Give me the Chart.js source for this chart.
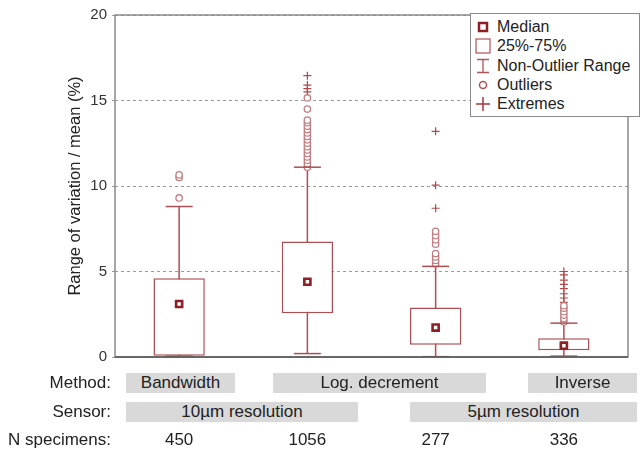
<!DOCTYPE html>
<html>
<head>
<meta charset="utf-8">
<script src="https://cdn.jsdelivr.net/npm/chart.js@4.4.0/dist/chart.umd.min.js"></script>
<style>
  body { margin: 0; background: #fff; font-family: "Liberation Sans", Arial, sans-serif; color: #222; }
  #wrap { position: relative; width: 643px; height: 450px; overflow: hidden; }
  #chart { position: absolute; left: 0; top: 0; }
  .legend { position: absolute; left: 470px; top: 13px; width: 170px; height: 104px; box-sizing: border-box;
            border: 1.5px solid #8a8a8a; background: #fff; }
  .li { position: absolute; left: 26px; font-size: 16px; line-height: 18px; white-space: nowrap; }
  .li svg { position: absolute; left: -22px; top: 1px; }
  .rowlabel { position: absolute; right: 532px; font-size: 17px; line-height: 20px; text-align: right; white-space: nowrap; }
  .bar { position: absolute; height: 20px; background: #d9d9d9; font-size: 17px; line-height: 20px; text-align: center; }
  .num { position: absolute; font-size: 17px; line-height: 20px; width: 60px; margin-left: -30px; text-align: center; }
</style>
</head>
<body>
<div id="wrap">
  <canvas id="chart" width="643" height="450"></canvas>

  <div class="legend">
    <div class="li" style="top:4px"><svg width="16" height="16"><rect x="4" y="4" width="8" height="8" fill="#fff" stroke="#8e1f24" stroke-width="2.5"/></svg>Median</div>
    <div class="li" style="top:23px"><svg width="16" height="16"><rect x="1" y="1" width="14" height="14" fill="#fff" stroke="#b05356" stroke-width="1.2"/></svg>25%-75%</div>
    <div class="li" style="top:43px"><svg width="16" height="16"><path d="M2 1.5H14M8 1.5V14.5M2 14.5H14" fill="none" stroke="#b05356" stroke-width="1.3"/></svg>Non-Outlier Range</div>
    <div class="li" style="top:62px"><svg width="16" height="16"><circle cx="8" cy="8" r="3.5" fill="#fff" stroke="#b05356" stroke-width="1.5"/></svg>Outliers</div>
    <div class="li" style="top:81px"><svg width="16" height="16"><path d="M1 8H15M8 1V15" fill="none" stroke="#a8383c" stroke-width="1.5"/></svg>Extremes</div>
  </div>

  <div class="rowlabel" style="top:373px">Method:</div>
  <div class="rowlabel" style="top:402px">Sensor:</div>
  <div class="rowlabel" style="top:430px">N specimens:</div>
  <div id="table"></div>
</div>

<script>
// four groups of measurements
var categories = ['Bandwidth', 'Log. decrement 10', 'Log. decrement 5', 'Inverse'];
var nSpecimens = [450, 1056, 277, 336];
var methods = ['Bandwidth', 'Log. decrement', 'Inverse'];
var sensors = ['10\u00b5m resolution', '5\u00b5m resolution'];

// box statistics (% range of variation / mean)
var q1 = [0.08, 2.56, 0.72, 0.4];
var q3 = [4.6, 6.75, 2.9, 1.1];
var medians = [3.1, 4.4, 1.72, 0.66];
var whiskLow = [0.05, 0.2, 0.02, 0.05];
var whiskHigh = [8.8, 11.1, 5.3, 1.98];

var outliers = [
  [9.3, 10.5, 10.65],
  [11.1, 11.3, 11.5, 11.7, 11.9, 12.1, 12.3, 12.5, 12.7, 12.9, 13.1, 13.3, 13.5, 13.7, 13.85, 14.5, 15.15],
  [5.45, 5.65, 5.85, 6.05, 6.6, 6.85, 7.1, 7.35],
  [2.05, 2.25, 2.45, 2.65, 2.85, 3.0]
];
var extremes = [
  [],
  [15.5, 15.7, 15.9, 16.45],
  [8.7, 10.05, 13.2],
  [3.2, 3.45, 3.7, 4.0, 4.25, 4.5, 4.8, 5.0]
];

var boxColor = '#ad4e52';
var medColor = '#8e1f24';
var outColor = '#c27d80';
var extColor = '#b1484c';

function pts(arrs) {
  var out = [];
  arrs.forEach(function (list, i) {
    list.forEach(function (v) { out.push({ x: categories[i], y: v }); });
  });
  return out;
}

var whiskerSets = categories.map(function (c, i) {
  return {
    type: 'line',
    data: [{ x: c, y: whiskLow[i] }, { x: c, y: whiskHigh[i] }],
    borderColor: boxColor,
    borderWidth: 1.5,
    pointRadius: 0,
    order: 5
  };
});

var datasets = [
  {
    type: 'line',
    label: 'Median',
    data: pts(medians.map(function (m) { return [m]; })),
    showLine: false,
    pointStyle: 'rect',
    pointRadius: 4.3,
    pointBorderWidth: 2.6,
    pointBorderColor: medColor,
    pointBackgroundColor: '#fff',
    order: 0
  },
  {
    type: 'bar',
    label: '25%-75%',
    data: categories.map(function (c, i) { return [q1[i], q3[i]]; }),
    backgroundColor: '#fff',
    borderColor: boxColor,
    borderWidth: 1.5,
    borderSkipped: false,
    barPercentage: 0.4,
    categoryPercentage: 1,
    order: 1
  },
  {
    type: 'line',
    label: 'Caps',
    data: pts(categories.map(function (c, i) { return [whiskLow[i], whiskHigh[i]]; })),
    showLine: false,
    pointStyle: 'line',
    pointRadius: 13.5,
    pointBorderWidth: 1.5,
    pointBorderColor: boxColor,
    order: 2
  },
  {
    type: 'line',
    label: 'Outliers',
    data: pts(outliers),
    showLine: false,
    pointStyle: 'circle',
    pointRadius: 3.2,
    pointBorderWidth: 1.3,
    pointBorderColor: outColor,
    pointBackgroundColor: '#fff',
    order: 3
  },
  {
    type: 'line',
    label: 'Extremes',
    data: pts(extremes),
    showLine: false,
    pointStyle: 'cross',
    pointRadius: 4,
    pointBorderWidth: 1.2,
    pointBorderColor: extColor,
    order: 4
  }
].concat(whiskerSets);

// grey frame round the plot
var framePlugin = {
  id: 'frame',
  afterDraw: function (chart) {
    var a = chart.chartArea, ctx = chart.ctx;
    ctx.save();
    ctx.strokeStyle = '#8a8a8a';
    ctx.lineWidth = 1.5;
    ctx.strokeRect(a.left, a.top, a.right - a.left, a.bottom - a.top);
    ctx.strokeStyle = '#555';
    ctx.beginPath();
    ctx.moveTo(a.left, a.bottom);
    ctx.lineTo(a.right, a.bottom);
    ctx.stroke();
    ctx.restore();
  }
};

var chart = new Chart(document.getElementById('chart'), {
  type: 'bar',
  data: { labels: categories, datasets: datasets },
  plugins: [framePlugin],
  options: {
    responsive: false,
    animation: false,
    layout: { padding: { left: 62, right: 3, top: 13, bottom: 93 } },
    plugins: { legend: { display: false }, tooltip: { enabled: false } },
    scales: {
      x: { display: false, offset: true },
      y: {
        min: 0, max: 20,
        afterFit: function (s) { s.width = 53; },
        ticks: { stepSize: 5, padding: 5, color: '#333', font: { family: 'Liberation Sans', size: 15 } },
        grid: { color: '#9a9a9a', lineWidth: 1, tickLength: 3, drawTicks: true },
        border: { display: false, dash: [3, 3] },
        title: {
          display: true,
          text: 'Range of variation / mean (%)',
          color: '#222',
          font: { family: 'Liberation Sans', size: 16.5 },
          padding: { top: 4, bottom: 0 }
        }
      }
    }
  }
});

// table under the chart
var table = document.getElementById('table');
function addBar(text, left, right, top) {
  var d = document.createElement('div');
  d.className = 'bar';
  d.style.left = left + 'px';
  d.style.width = (right - left) + 'px';
  d.style.top = top + 'px';
  d.textContent = text;
  table.appendChild(d);
}
addBar(methods[0], 126, 235, 373);
addBar(methods[1], 273, 486, 373);
addBar(methods[2], 528, 637, 373);
addBar(sensors[0], 126, 358, 402);
addBar(sensors[1], 410, 637, 402);

nSpecimens.forEach(function (n, i) {
  var d = document.createElement('div');
  d.className = 'num';
  d.style.left = chart.scales.x.getPixelForValue(i) + 'px';
  d.style.top = '430px';
  d.textContent = n;
  table.appendChild(d);
});
</script>
</body>
</html>
